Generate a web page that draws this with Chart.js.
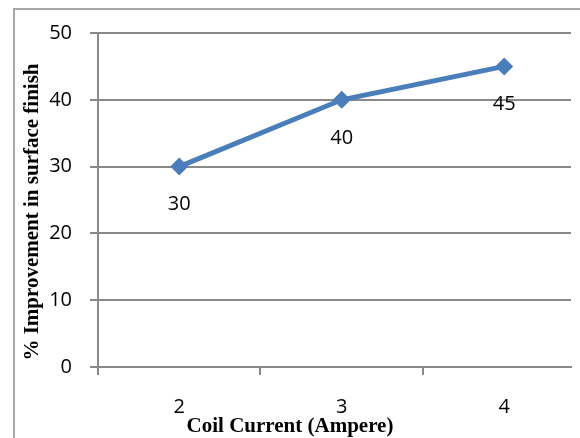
<!DOCTYPE html>
<html>
<head>
<meta charset="utf-8">
<script src="https://cdn.jsdelivr.net/npm/chart.js@4/dist/chart.umd.min.js"></script>
<style>
  html, body { margin: 0; padding: 0; background: #fff; overflow: hidden; }
</style>
</head>
<body>
<canvas id="chart" width="580" height="438"></canvas>
<script>
// Coil current settings (Ampere) and the resulting surface-finish improvement (%)
const categories = ['2', '3', '4'];
const improvement = [30, 40, 45];
const yTicks = [0, 10, 20, 30, 40, 50];

const xTitle = 'Coil Current (Ampere)';
const yTitle = '% Improvement in surface finish';

const lineBlue = '#4A7EBB';
const gridGrey = '#898989';
const tickFont = { family: '"Open Sans", sans-serif', size: 20 };

// each category sits in the middle of a one-unit slot; tick marks go on slot edges
const xCentres = categories.map(Number);
const xEdges = xCentres.map(v => v - 0.5);
const xTickValues = [...xEdges, ...xCentres].sort((a, b) => a - b);
const points = xCentres.map((x, i) => ({ x, y: improvement[i] }));

// Outer frame, point value labels and the two axis titles
const decorations = {
  id: 'decorations',
  beforeDraw(chart) {
    const ctx = chart.ctx;
    ctx.save();
    ctx.strokeStyle = '#a6a6a6';
    ctx.lineWidth = 2;
    ctx.beginPath();
    ctx.moveTo(14, chart.height);
    ctx.lineTo(14, 9);
    ctx.lineTo(chart.width, 9);
    ctx.stroke();
    ctx.restore();
  },
  afterDraw(chart) {
    const ctx = chart.ctx;
    const area = chart.chartArea;
    ctx.save();
    // value labels under each point
    ctx.fillStyle = '#000';
    ctx.font = '20px "Open Sans", sans-serif';
    ctx.textAlign = 'center';
    ctx.textBaseline = 'middle';
    const meta = chart.getDatasetMeta(0);
    meta.data.forEach((pt, i) => {
      ctx.fillText(String(improvement[i]), pt.x, pt.y + 38);
    });
    // axis titles
    ctx.textBaseline = 'alphabetic';
    ctx.font = 'bold 21px "Liberation Serif", "Times New Roman", serif';
    ctx.fillText(xTitle, area.left + 192, area.bottom + 65);
    ctx.translate(38, (area.top + area.bottom) / 2 + 12);
    ctx.rotate(-Math.PI / 2);
    ctx.fillText(yTitle, 0, 0);
    ctx.restore();
  }
};

new Chart(document.getElementById('chart'), {
  type: 'line',
  data: {
    datasets: [{
      data: points,
      borderColor: lineBlue,
      backgroundColor: lineBlue,
      borderWidth: 5,
      pointStyle: 'rectRot',
      pointRadius: 9,
      pointHoverRadius: 9,
      pointBorderWidth: 0,
      tension: 0,
      fill: false
    }]
  },
  options: {
    responsive: false,
    animation: false,
    events: [],
    layout: { padding: { left: 0, right: 0, top: 33, bottom: 0 } },
    plugins: { legend: { display: false }, tooltip: { enabled: false } },
    scales: {
      x: {
        type: 'linear',
        bounds: 'data',
        min: xEdges[0],
        // the last slot is cut short by the right edge of the plot
        max: xCentres[xCentres.length - 1] + 0.411,
        afterBuildTicks(scale) { scale.ticks = xTickValues.map(v => ({ value: v })); },
        grid: {
          display: true,
          drawOnChartArea: false,
          drawTicks: true,
          tickLength: 8,
          color: c => (c.tick && Number.isInteger(c.tick.value)) ? 'rgba(0,0,0,0)' : gridGrey,
          lineWidth: 2
        },
        border: { display: true, color: gridGrey, width: 2 },
        ticks: {
          color: '#000',
          font: tickFont,
          padding: 20,
          maxRotation: 0,
          autoSkip: false,
          callback: v => Number.isInteger(v) ? categories[xCentres.indexOf(v)] : ''
        },
        afterFit(scale) {
          scale.height = 71;
          scale.paddingLeft = 0;
          scale.paddingRight = 0;
        }
      },
      y: {
        min: 0,
        max: 50,
        afterBuildTicks(scale) { scale.ticks = yTicks.map(v => ({ value: v })); },
        grid: { color: gridGrey, lineWidth: 2, tickLength: 8, drawTicks: true },
        border: { display: true, color: gridGrey, width: 2 },
        ticks: { color: '#000', font: tickFont, padding: 18 },
        afterFit(scale) { scale.width = 98; }
      }
    }
  },
  plugins: [decorations]
});
</script>
</body>
</html>
